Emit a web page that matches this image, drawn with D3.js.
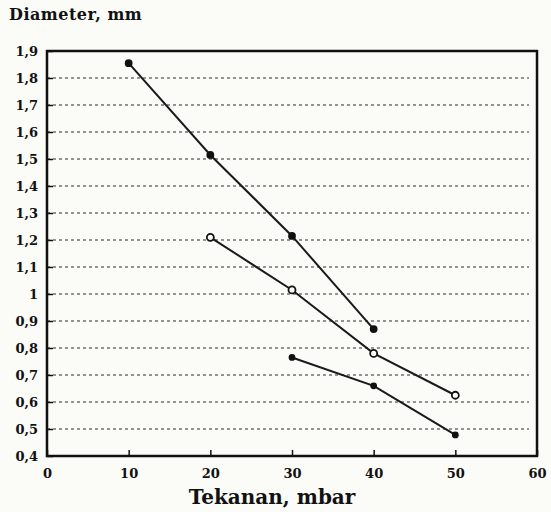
<!DOCTYPE html>
<html>
<head>
<meta charset="utf-8">
<script src="https://cdn.jsdelivr.net/npm/d3@7"></script>
<style>
  body { margin: 0; background: #fbfbf7; }
  svg { display: block; }
  .tick text { font-family: "DejaVu Serif", serif; font-weight: bold; font-size: 13px; fill: #111; }
</style>
</head>
<body>
<div id="chart"></div>
<script>
// values (Tekanan in mbar, Diameter in mm)
var pressA = [10, 20, 30, 40];
var diamA = [1.855, 1.515, 1.215, 0.87];
var pressB = [20, 30, 40, 50];
var diamB = [1.21, 1.015, 0.78, 0.625];
var pressC = [30, 40, 50];
var diamC = [0.765, 0.66, 0.478];

var xTicks = [0, 10, 20, 30, 40, 50, 60];
var yTicks = [0.4, 0.5, 0.6, 0.7, 0.8, 0.9, 1, 1.1, 1.2, 1.3, 1.4, 1.5, 1.6, 1.7, 1.8, 1.9];

var width = 551;
var height = 512;
var margin = {left: 47, top: 51, right: 14, bottom: 56};

var svg = d3.select("#chart")
	.append("svg")
	.attr("width", width)
	.attr("height", height);

var x = d3.scaleLinear()
	.domain([0, 60])
	.range([margin.left, width - margin.right]);
var y = d3.scaleLinear()
	.domain([0.4, 1.9])
	.range([height - margin.bottom, margin.top]);

function comma(d) {
	return String(d).replace(".", ",");
}

// dashed grid lines
svg.append("g")
	.selectAll("line")
	.data(yTicks.slice(1, -1))
	.enter()
	.append("line")
	.attr("x1", x(0))
	.attr("x2", x(60) - 8)
	.attr("y1", function(d) { return y(d); })
	.attr("y2", function(d) { return y(d); })
	.style("stroke", "#444")
	.style("stroke-width", 1.3)
	.style("stroke-dasharray", "3,3")
	.style("opacity", 0.75);

// axes
var xAxis = d3.axisBottom(x)
	.tickValues(xTicks)
	.tickSize(-6)
	.tickPadding(13)
	.tickFormat(comma);
var yAxis = d3.axisLeft(y)
	.tickValues(yTicks)
	.tickSize(-6)
	.tickPadding(9)
	.tickFormat(comma);

svg.append("g")
	.attr("transform", "translate(0," + y(0.4) + ")")
	.call(xAxis)
	.call(function(g) { g.select(".domain").remove(); })
	.selectAll("line").style("stroke", "#111").style("stroke-width", 1.5);

svg.append("g")
	.attr("transform", "translate(" + x(0) + ",0)")
	.call(yAxis)
	.call(function(g) { g.select(".domain").remove(); })
	.selectAll("line").style("stroke", "#111").style("stroke-width", 1.5);

// frame
svg.append("rect")
	.attr("x", x(0))
	.attr("y", y(1.9))
	.attr("width", x(60) - x(0))
	.attr("height", y(0.4) - y(1.9))
	.style("fill", "none")
	.style("stroke", "#111")
	.style("stroke-width", 2.5);

// lines and markers
var line = d3.line()
	.x(function(d) { return x(d[0]); })
	.y(function(d) { return y(d[1]); });

function drawSeries(press, diam, open, r) {
	var pts = press.map(function(p, i) { return [p, diam[i]]; });
	svg.append("path")
		.datum(pts)
		.attr("d", line)
		.style("fill", "none")
		.style("stroke", "#1a1a1a")
		.style("stroke-width", 2);
	svg.append("g")
		.selectAll("circle")
		.data(pts)
		.enter()
		.append("circle")
		.attr("cx", function(d) { return x(d[0]); })
		.attr("cy", function(d) { return y(d[1]); })
		.attr("r", r)
		.style("fill", open ? "#fbfbf7" : "#111")
		.style("stroke", "#111")
		.style("stroke-width", 1.8);
}

drawSeries(pressA, diamA, false, 3);
drawSeries(pressB, diamB, true, 3.5);
drawSeries(pressC, diamC, false, 2.5);

// axis titles
svg.append("text")
	.attr("x", 9)
	.attr("y", 20)
	.style("font-family", "DejaVu Serif, serif")
	.style("font-weight", "bold")
	.style("font-size", "16px")
	.style("letter-spacing", "0.5px")
	.style("fill", "#111")
	.text("Diameter, mm");

svg.append("text")
	.attr("x", 272)
	.attr("y", 504)
	.style("text-anchor", "middle")
	.style("font-family", "DejaVu Serif, serif")
	.style("font-weight", "bold")
	.style("font-size", "20px")
	.style("fill", "#111")
	.text("Tekanan, mbar");
</script>
</body>
</html>
